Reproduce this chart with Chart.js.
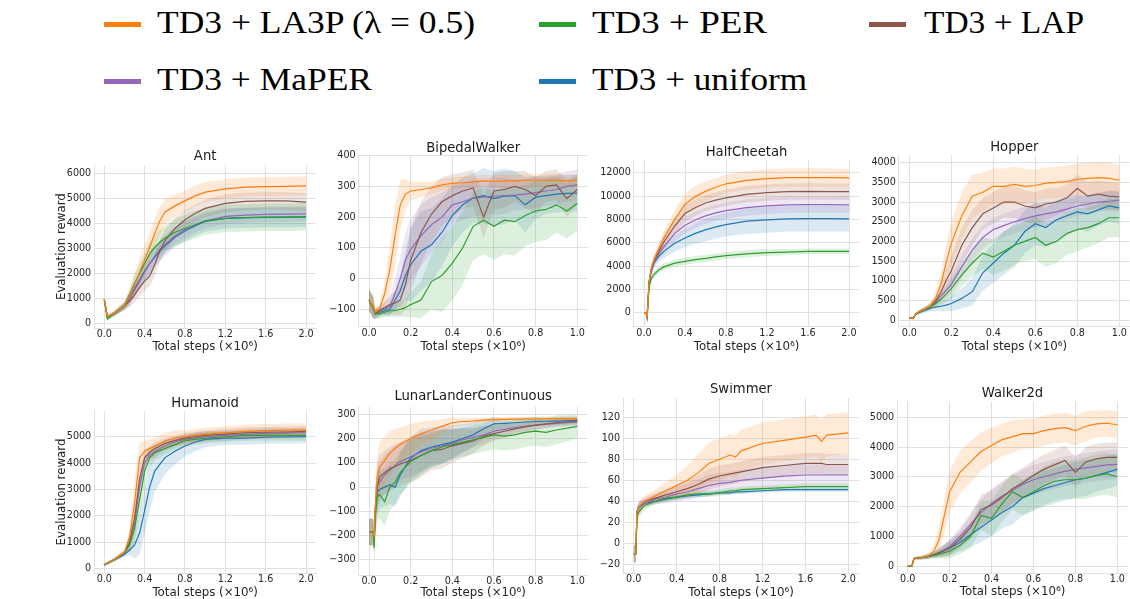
<!DOCTYPE html>
<html><head><meta charset="utf-8">
<script src="https://cdn.jsdelivr.net/npm/chart.js@4.4.1/dist/chart.umd.min.js"></script>
<style>
html,body{margin:0;padding:0;background:#ffffff;}
body{width:1130px;height:599px;overflow:hidden;position:relative;}
canvas{position:absolute;}
.lgText{position:absolute;font-family:"Liberation Serif",serif;font-size:32.6px;line-height:32.6px;color:#000;white-space:nowrap;transform-origin:0 0;}
.lgLine{position:absolute;height:5px;width:37px;}
</style></head><body>
<script>
// ================= DATA =================
const seriesNames = ['TD3 + LA3P (\u03bb = 0.5)', 'TD3 + PER', 'TD3 + LAP', 'TD3 + MaPER', 'TD3 + uniform'];
const envNames = ['Ant', 'BipedalWalker', 'HalfCheetah', 'Hopper', 'Humanoid', 'LunarLanderContinuous', 'Swimmer', 'Walker2d'];
const xAxisLabel = 'Total steps (\u00d710\u2076)';
const yAxisLabel = 'Evaluation reward';

const xTicks2M = [0, 0.4, 0.8, 1.2, 1.6, 2.0];
const xTicks1M = [0, 0.2, 0.4, 0.6, 0.8, 1.0];
const antYTicks = [0, 1000, 2000, 3000, 4000, 5000, 6000];
const bipedalYTicks = [-100, 0, 100, 200, 300, 400];
const halfCheetahYTicks = [0, 2000, 4000, 6000, 8000, 10000, 12000];
const hopperYTicks = [0, 500, 1000, 1500, 2000, 2500, 3000, 3500, 4000];
const humanoidYTicks = [0, 1000, 2000, 3000, 4000, 5000];
const lunarYTicks = [-300, -200, -100, 0, 100, 200, 300];
const swimmerYTicks = [-20, 0, 20, 40, 60, 80, 100, 120];
const walkerYTicks = [0, 1000, 2000, 3000, 4000, 5000];

// Ant
const antSteps   = [0, 0.03, 0.1, 0.2, 0.25, 0.3, 0.35, 0.4, 0.45, 0.5, 0.55, 0.6, 0.7, 0.8, 0.9, 1.0, 1.2, 1.4, 1.6, 1.8, 2.0];
const antLA3P    = [970, 280, 420, 720, 1100, 1550, 2050, 2550, 3050, 3600, 4100, 4450, 4700, 4900, 5100, 5250, 5380, 5450, 5470, 5480, 5500];
const antPER     = [970, 180, 420, 730, 1150, 1600, 2000, 2400, 2800, 3050, 3250, 3400, 3650, 3800, 3950, 4100, 4200, 4230, 4250, 4250, 4270];
const antLAP     = [970, 270, 400, 700, 900, 1150, 1450, 1700, 1900, 2350, 2900, 3300, 3800, 4150, 4400, 4600, 4800, 4880, 4900, 4900, 4850];
const antMaPER   = [930, 270, 410, 710, 1000, 1350, 1700, 2050, 2400, 2700, 2950, 3150, 3500, 3750, 3950, 4100, 4280, 4330, 4360, 4370, 4380];
const antUniform = [970, 260, 410, 700, 1000, 1400, 1750, 2100, 2400, 2650, 2900, 3100, 3450, 3700, 3900, 4080, 4200, 4230, 4240, 4250, 4250];
const antLA3PBand    = [30, 80, 100, 150, 300, 450, 550, 600, 600, 600, 550, 500, 450, 400, 400, 400, 380, 380, 380, 380, 380];
const antPERBand     = [30, 80, 100, 150, 250, 350, 400, 400, 450, 450, 500, 500, 550, 550, 550, 550, 550, 550, 550, 550, 550];
const antLAPBand     = [30, 80, 100, 150, 250, 300, 350, 400, 400, 450, 450, 450, 400, 400, 350, 350, 350, 350, 350, 350, 350];
const antMaPERBand   = [30, 80, 100, 150, 250, 300, 350, 350, 350, 350, 350, 350, 350, 350, 300, 300, 300, 300, 300, 300, 300];
const antUniformBand = [30, 80, 100, 150, 250, 300, 350, 400, 400, 400, 400, 400, 400, 400, 400, 400, 400, 400, 400, 400, 400];

// BipedalWalker
const bipedalSteps   = [0, 0.02, 0.03, 0.05, 0.075, 0.1, 0.125, 0.15, 0.175, 0.2, 0.25, 0.3, 0.35, 0.4, 0.45, 0.5, 0.55, 0.6, 0.65, 0.7, 0.75, 0.8, 0.85, 0.9, 0.95, 1.0];
const bipedalLA3P    = [-70, -90, -110, -100, -50, 30, 140, 240, 275, 285, 290, 295, 305, 310, 312, 315, 318, 316, 318, 318, 320, 320, 320, 320, 318, 320];
const bipedalPER     = [-70, -95, -115, -115, -110, -105, -105, -100, -95, -85, -70, -10, 10, 50, 100, 170, 190, 170, 190, 185, 205, 220, 225, 240, 220, 245];
const bipedalLAP     = [-70, -95, -115, -105, -95, -85, -80, -70, -20, 60, 150, 210, 250, 270, 285, 295, 200, 285, 290, 300, 290, 270, 300, 305, 260, 290];
const bipedalMaPER   = [-70, -95, -115, -105, -100, -90, -50, 0, 60, 95, 140, 175, 200, 240, 250, 262, 265, 268, 270, 272, 275, 280, 285, 290, 300, 305];
const bipedalUniform = [-70, -95, -115, -110, -105, -100, -70, -40, 10, 45, 90, 110, 150, 205, 240, 262, 270, 260, 268, 270, 240, 265, 270, 275, 277, 278];
const bipedalLA3PBand    = [35, 35, 15, 20, 40, 80, 100, 80, 50, 30, 25, 20, 20, 20, 20, 20, 20, 20, 20, 20, 20, 20, 20, 20, 20, 20];
const bipedalPERBand     = [35, 35, 15, 15, 15, 20, 20, 25, 30, 40, 60, 90, 120, 120, 120, 110, 110, 110, 110, 110, 100, 100, 100, 90, 90, 90];
const bipedalLAPBand     = [35, 35, 15, 15, 20, 30, 40, 50, 80, 100, 100, 90, 80, 70, 60, 60, 70, 60, 60, 50, 60, 60, 50, 50, 60, 50];
const bipedalMaPERBand   = [35, 35, 15, 15, 20, 30, 50, 70, 90, 100, 100, 90, 80, 60, 60, 60, 60, 60, 60, 50, 50, 50, 50, 50, 50, 50];
const bipedalUniformBand = [35, 35, 15, 15, 15, 20, 30, 50, 80, 120, 130, 120, 110, 100, 90, 80, 90, 90, 90, 80, 90, 70, 60, 60, 60, 60];

// HalfCheetah
const halfCheetahSteps   = [0, 0.02, 0.03, 0.05, 0.07, 0.1, 0.15, 0.2, 0.3, 0.4, 0.5, 0.6, 0.7, 0.8, 1.0, 1.2, 1.4, 1.6, 1.8, 2.0];
const halfCheetahLA3P    = [0, 0, -400, 2700, 3800, 4600, 5600, 6500, 8000, 9300, 9950, 10400, 10750, 11050, 11350, 11500, 11580, 11580, 11570, 11550];
const halfCheetahPER     = [0, 0, -400, 2200, 2900, 3300, 3700, 3950, 4250, 4400, 4550, 4650, 4780, 4900, 5050, 5150, 5200, 5250, 5250, 5250];
const halfCheetahLAP     = [0, 0, -400, 2700, 3700, 4500, 5350, 6150, 7450, 8500, 9000, 9400, 9650, 9850, 10150, 10300, 10380, 10400, 10380, 10370];
const halfCheetahMaPER   = [0, 0, -400, 2600, 3600, 4400, 5150, 5700, 6800, 7500, 7950, 8300, 8550, 8750, 9000, 9150, 9250, 9270, 9260, 9250];
const halfCheetahUniform = [0, 0, -400, 2600, 3500, 4300, 4900, 5300, 5950, 6400, 6800, 7100, 7350, 7550, 7850, 7950, 8050, 8060, 8060, 8050];
const halfCheetahLA3PBand    = [50, 50, 150, 300, 400, 400, 500, 600, 800, 900, 900, 850, 800, 800, 800, 800, 800, 800, 800, 750];
const halfCheetahPERBand     = [50, 50, 150, 250, 300, 300, 300, 300, 300, 300, 300, 300, 300, 300, 300, 300, 250, 250, 250, 250];
const halfCheetahLAPBand     = [50, 50, 150, 300, 400, 400, 500, 600, 700, 700, 700, 700, 700, 700, 700, 700, 700, 700, 700, 700];
const halfCheetahMaPERBand   = [50, 50, 150, 300, 400, 400, 500, 600, 700, 700, 700, 700, 700, 700, 700, 700, 700, 700, 700, 700];
const halfCheetahUniformBand = [50, 50, 150, 300, 400, 400, 500, 600, 700, 800, 900, 1000, 1000, 1000, 1100, 1100, 1100, 1100, 1100, 1100];

// Hopper
const hopperSteps   = [0, 0.02, 0.03, 0.05, 0.075, 0.1, 0.125, 0.15, 0.175, 0.2, 0.25, 0.3, 0.35, 0.4, 0.45, 0.5, 0.55, 0.6, 0.65, 0.7, 0.75, 0.8, 0.85, 0.9, 0.95, 1.0];
const hopperLA3P    = [50, 50, 150, 220, 280, 360, 550, 900, 1450, 1950, 2650, 3150, 3250, 3400, 3400, 3450, 3400, 3420, 3480, 3500, 3520, 3580, 3600, 3620, 3600, 3560];
const hopperPER     = [50, 50, 150, 210, 270, 340, 420, 520, 650, 800, 1150, 1450, 1700, 1600, 1750, 1900, 2000, 2100, 1900, 2000, 2200, 2300, 2350, 2450, 2600, 2600];
const hopperLAP     = [50, 50, 150, 220, 280, 350, 480, 700, 1000, 1250, 1900, 2350, 2700, 2850, 3000, 3000, 2900, 2850, 2950, 3000, 3100, 3350, 3150, 3200, 3150, 3130];
const hopperMaPER   = [50, 50, 150, 210, 270, 340, 450, 600, 750, 900, 1350, 1780, 2100, 2300, 2400, 2500, 2580, 2650, 2700, 2750, 2820, 2900, 2950, 3000, 3020, 3050];
const hopperUniform = [50, 50, 150, 200, 250, 300, 330, 350, 380, 420, 550, 720, 1200, 1450, 1700, 1900, 2250, 2450, 2350, 2550, 2650, 2750, 2700, 2800, 2900, 2850];
const hopperLA3PBand    = [20, 20, 30, 50, 60, 80, 150, 300, 450, 550, 600, 550, 500, 450, 450, 450, 450, 400, 400, 400, 400, 400, 400, 400, 400, 400];
const hopperPERBand     = [20, 20, 30, 50, 60, 80, 100, 150, 200, 250, 300, 350, 400, 450, 500, 500, 500, 550, 550, 550, 550, 550, 500, 500, 500, 500];
const hopperLAPBand     = [20, 20, 30, 50, 60, 80, 120, 200, 300, 400, 450, 450, 400, 400, 400, 400, 400, 400, 400, 350, 350, 350, 350, 350, 350, 350];
const hopperMaPERBand   = [20, 20, 30, 50, 60, 80, 100, 150, 200, 250, 300, 300, 300, 300, 300, 300, 300, 300, 300, 250, 250, 250, 250, 250, 250, 250];
const hopperUniformBand = [20, 20, 30, 50, 60, 80, 100, 120, 150, 200, 250, 350, 450, 500, 550, 550, 550, 550, 500, 500, 500, 450, 450, 400, 400, 400];

// Humanoid
const humanoidSteps   = [0, 0.1, 0.2, 0.25, 0.3, 0.35, 0.4, 0.45, 0.5, 0.6, 0.7, 0.8, 0.9, 1.0, 1.2, 1.4, 1.6, 1.8, 2.0];
const humanoidLA3P    = [150, 350, 620, 1200, 2500, 4200, 4450, 4550, 4650, 4850, 4950, 5000, 5050, 5100, 5150, 5200, 5230, 5250, 5260];
const humanoidPER     = [150, 350, 590, 900, 1500, 2600, 3700, 4200, 4400, 4550, 4700, 4850, 4900, 4950, 5000, 5050, 5050, 5050, 5050];
const humanoidLAP     = [150, 350, 600, 1000, 1900, 3400, 4200, 4400, 4550, 4750, 4850, 4950, 5000, 5050, 5100, 5150, 5170, 5180, 5200];
const humanoidMaPER   = [150, 350, 600, 950, 1700, 3100, 4000, 4300, 4450, 4650, 4800, 4900, 4950, 5000, 5050, 5100, 5120, 5140, 5150];
const humanoidUniform = [140, 330, 550, 700, 900, 1350, 2200, 3100, 3700, 4200, 4450, 4650, 4800, 4900, 4950, 4950, 4980, 4990, 5000];
const humanoidLA3PBand    = [50, 60, 100, 300, 800, 600, 400, 350, 300, 300, 300, 250, 250, 250, 250, 250, 250, 250, 250];
const humanoidPERBand     = [50, 60, 100, 250, 500, 700, 500, 350, 300, 250, 200, 200, 200, 200, 200, 200, 200, 200, 200];
const humanoidLAPBand     = [50, 60, 100, 250, 500, 500, 300, 250, 250, 200, 200, 200, 200, 200, 200, 200, 200, 200, 200];
const humanoidMaPERBand   = [50, 60, 100, 250, 500, 500, 300, 250, 250, 200, 200, 200, 200, 200, 200, 200, 200, 200, 200];
const humanoidUniformBand = [50, 60, 100, 200, 500, 800, 900, 900, 800, 600, 500, 400, 350, 300, 250, 250, 250, 250, 250];

// LunarLanderContinuous
const lunarSteps   = [0, 0.02, 0.025, 0.03, 0.04, 0.05, 0.075, 0.1, 0.125, 0.15, 0.2, 0.25, 0.3, 0.35, 0.4, 0.45, 0.5, 0.55, 0.6, 0.65, 0.7, 0.75, 0.8, 0.85, 0.9, 1.0];
const lunarLA3P    = [-185, -185, -200, -80, 40, 80, 110, 140, 160, 175, 200, 220, 235, 250, 265, 270, 272, 276, 278, 279, 280, 280, 280, 281, 282, 282];
const lunarPER     = [-185, -185, -250, -120, -40, -30, -60, 0, 20, 60, 105, 130, 150, 165, 175, 185, 195, 205, 215, 210, 215, 225, 230, 225, 235, 250];
const lunarLAP     = [-185, -185, -220, -90, 0, 40, 60, 75, 85, 95, 110, 130, 150, 155, 170, 180, 190, 210, 220, 230, 240, 248, 255, 260, 265, 272];
const lunarMaPER   = [-185, -185, -220, -100, 0, 20, 50, 70, 90, 105, 125, 145, 160, 170, 180, 195, 205, 215, 230, 238, 245, 250, 255, 258, 262, 268];
const lunarUniform = [-185, -185, -200, -100, -20, -10, 0, 10, 0, 50, 120, 150, 165, 175, 185, 200, 215, 240, 260, 262, 265, 268, 270, 271, 272, 275];
const lunarLA3PBand    = [55, 55, 50, 80, 100, 100, 100, 90, 80, 70, 60, 50, 40, 30, 20, 15, 15, 10, 10, 10, 10, 10, 10, 10, 10, 10];
const lunarPERBand     = [55, 55, 70, 100, 100, 100, 100, 100, 90, 90, 90, 80, 70, 70, 60, 60, 60, 60, 60, 60, 60, 60, 60, 60, 60, 50];
const lunarLAPBand     = [55, 55, 50, 80, 100, 90, 90, 90, 90, 90, 90, 90, 80, 80, 70, 60, 50, 40, 30, 30, 20, 20, 20, 15, 15, 15];
const lunarMaPERBand   = [55, 55, 50, 80, 90, 80, 80, 80, 80, 80, 80, 80, 70, 70, 60, 50, 40, 40, 30, 30, 20, 20, 20, 15, 15, 15];
const lunarUniformBand = [55, 55, 50, 80, 90, 80, 80, 80, 80, 90, 90, 90, 80, 80, 70, 60, 50, 40, 30, 20, 20, 20, 15, 15, 15, 15];

// Swimmer
const swimmerSteps   = [0, 0.02, 0.03, 0.05, 0.1, 0.2, 0.3, 0.4, 0.5, 0.6, 0.7, 0.8, 0.9, 0.95, 1.0, 1.2, 1.4, 1.6, 1.7, 1.75, 1.8, 2.0];
const swimmerLA3P    = [-10, -10, 30, 35, 40, 45, 50, 55, 60, 67, 76, 80, 84, 82, 88, 95, 98, 101, 103, 97, 103, 105];
const swimmerPER     = [-10, -10, 25, 30, 36, 40, 43, 44, 46, 47, 47, 48, 50, 50, 51, 52, 53, 54, 54, 54, 54, 54];
const swimmerLAP     = [-10, -10, 30, 35, 40, 43, 46, 49, 52, 56, 61, 64, 66, 67, 68, 72, 74, 76, 76, 76, 75, 75];
const swimmerMaPER   = [-10, -10, 30, 34, 38, 42, 44, 47, 49, 52, 55, 57, 58, 59, 60, 62, 64, 65, 65, 65, 65, 65];
const swimmerUniform = [-10, -10, 30, 34, 38, 40, 42, 44, 45, 46, 47, 48, 48, 49, 49, 50, 51, 51, 51, 51, 51, 51];
const swimmerLA3PBand    = [8, 8, 5, 5, 5, 6, 8, 10, 14, 18, 20, 20, 20, 20, 20, 20, 20, 20, 20, 20, 20, 20];
const swimmerPERBand     = [8, 8, 6, 6, 4, 3, 3, 3, 3, 3, 3, 3, 3, 3, 3, 3, 3, 3, 3, 3, 3, 3];
const swimmerLAPBand     = [8, 8, 5, 5, 4, 5, 6, 7, 8, 9, 10, 10, 10, 10, 10, 10, 10, 10, 10, 10, 10, 10];
const swimmerMaPERBand   = [8, 8, 5, 5, 4, 5, 6, 7, 8, 9, 10, 10, 10, 10, 10, 10, 10, 10, 10, 10, 10, 10];
const swimmerUniformBand = [8, 8, 5, 5, 3, 2, 2, 2, 2, 2, 2, 2, 2, 2, 2, 2, 2, 2, 2, 2, 2, 2];

// Walker2d
const walkerSteps   = [0, 0.02, 0.03, 0.05, 0.075, 0.1, 0.125, 0.15, 0.175, 0.2, 0.25, 0.3, 0.35, 0.4, 0.45, 0.5, 0.55, 0.6, 0.65, 0.7, 0.75, 0.8, 0.85, 0.9, 0.95, 1.0];
const walkerLA3P    = [0, 0, 250, 270, 300, 350, 500, 900, 1700, 2500, 3150, 3500, 3850, 4050, 4250, 4350, 4450, 4450, 4550, 4620, 4650, 4550, 4700, 4780, 4800, 4750];
const walkerPER     = [0, 0, 250, 270, 290, 320, 360, 400, 450, 500, 700, 1000, 1700, 1600, 2100, 2500, 2300, 2500, 2700, 2850, 2900, 2900, 2950, 3050, 3100, 3000];
const walkerLAP     = [0, 0, 250, 270, 290, 330, 380, 450, 520, 600, 900, 1300, 1900, 2050, 2300, 2600, 2800, 3050, 3250, 3400, 3550, 3150, 3500, 3600, 3650, 3650];
const walkerMaPER   = [0, 0, 250, 270, 290, 330, 380, 450, 550, 650, 1000, 1400, 1800, 2100, 2350, 2550, 2750, 2900, 3000, 3100, 3180, 3250, 3300, 3350, 3400, 3420];
const walkerUniform = [0, 0, 250, 270, 290, 320, 380, 450, 520, 600, 800, 1050, 1300, 1550, 1800, 2000, 2300, 2450, 2600, 2700, 2800, 2900, 2950, 3050, 3150, 3250];
const walkerLA3PBand    = [10, 10, 40, 50, 60, 80, 200, 400, 600, 700, 700, 700, 650, 600, 550, 550, 500, 500, 500, 500, 500, 500, 500, 450, 450, 450];
const walkerPERBand     = [10, 10, 40, 50, 60, 80, 100, 150, 200, 250, 300, 400, 500, 600, 600, 600, 600, 600, 650, 650, 650, 650, 700, 700, 700, 700];
const walkerLAPBand     = [10, 10, 40, 50, 60, 80, 100, 150, 200, 250, 300, 400, 500, 500, 500, 500, 500, 500, 500, 500, 500, 500, 500, 500, 500, 500];
const walkerMaPERBand   = [10, 10, 40, 50, 60, 80, 100, 150, 200, 250, 300, 400, 450, 500, 500, 500, 500, 500, 500, 500, 500, 500, 500, 500, 500, 500];
const walkerUniformBand = [10, 10, 40, 50, 60, 80, 100, 150, 200, 250, 300, 400, 500, 550, 550, 600, 600, 600, 600, 600, 600, 600, 600, 550, 550, 550];

// ================= TABLE BUILT FROM THE ARRAYS =================
const envData = [
  {steps: antSteps, means: [antLA3P, antPER, antLAP, antMaPER, antUniform], bands: [antLA3PBand, antPERBand, antLAPBand, antMaPERBand, antUniformBand], xTicks: xTicks2M, yTicks: antYTicks},
  {steps: bipedalSteps, means: [bipedalLA3P, bipedalPER, bipedalLAP, bipedalMaPER, bipedalUniform], bands: [bipedalLA3PBand, bipedalPERBand, bipedalLAPBand, bipedalMaPERBand, bipedalUniformBand], xTicks: xTicks1M, yTicks: bipedalYTicks},
  {steps: halfCheetahSteps, means: [halfCheetahLA3P, halfCheetahPER, halfCheetahLAP, halfCheetahMaPER, halfCheetahUniform], bands: [halfCheetahLA3PBand, halfCheetahPERBand, halfCheetahLAPBand, halfCheetahMaPERBand, halfCheetahUniformBand], xTicks: xTicks2M, yTicks: halfCheetahYTicks},
  {steps: hopperSteps, means: [hopperLA3P, hopperPER, hopperLAP, hopperMaPER, hopperUniform], bands: [hopperLA3PBand, hopperPERBand, hopperLAPBand, hopperMaPERBand, hopperUniformBand], xTicks: xTicks1M, yTicks: hopperYTicks},
  {steps: humanoidSteps, means: [humanoidLA3P, humanoidPER, humanoidLAP, humanoidMaPER, humanoidUniform], bands: [humanoidLA3PBand, humanoidPERBand, humanoidLAPBand, humanoidMaPERBand, humanoidUniformBand], xTicks: xTicks2M, yTicks: humanoidYTicks},
  {steps: lunarSteps, means: [lunarLA3P, lunarPER, lunarLAP, lunarMaPER, lunarUniform], bands: [lunarLA3PBand, lunarPERBand, lunarLAPBand, lunarMaPERBand, lunarUniformBand], xTicks: xTicks1M, yTicks: lunarYTicks},
  {steps: swimmerSteps, means: [swimmerLA3P, swimmerPER, swimmerLAP, swimmerMaPER, swimmerUniform], bands: [swimmerLA3PBand, swimmerPERBand, swimmerLAPBand, swimmerMaPERBand, swimmerUniformBand], xTicks: xTicks2M, yTicks: swimmerYTicks},
  {steps: walkerSteps, means: [walkerLA3P, walkerPER, walkerLAP, walkerMaPER, walkerUniform], bands: [walkerLA3PBand, walkerPERBand, walkerLAPBand, walkerMaPERBand, walkerUniformBand], xTicks: xTicks1M, yTicks: walkerYTicks},
];

// ================= STYLE / LAYOUT =================
const seriesColors = [[255,127,14],[44,160,44],[140,86,75],[148,103,189],[31,119,180]];
const frames = [
  {L:94.2,  T:165,   R:316.1,  B:328.3, xMin:-0.1,  xMax:2.1,  yMin:-183,  yMax:6331,  titleY:156.5, xLabelY:346.7, yLabelX:61.7},
  {L:358.6, T:155.1, R:587.7,  B:326.7, xMin:-0.05, xMax:1.05, yMin:-157,  yMax:402,   titleY:148.3, xLabelY:346.7},
  {L:633.75,T:160,   R:859.25, B:326.7, xMin:-0.1,  xMax:2.1,  yMin:-1200, yMax:13089, titleY:152.7, xLabelY:346.7},
  {L:898.8, T:155,   R:1129.8, B:326.7, xMin:-0.05, xMax:1.05, yMin:-170,  yMax:4196,  titleY:147.3, xLabelY:346.7},
  {L:94.2,  T:410.6, R:316.1,  B:573.3, xMin:-0.1,  xMax:2.1,  yMin:-174,  yMax:5990,  titleY:404,   xLabelY:593.3, yLabelX:61.7},
  {L:358.6, T:406.7, R:587.7,  B:575,   xMin:-0.05, xMax:1.05, yMin:-362,  yMax:331,   titleY:396.7, xLabelY:593.3},
  {L:623,   T:398.3, R:859,    B:573.3, xMin:-0.1,  xMax:2.1,  yMin:-28.6, yMax:138,   titleY:390,   xLabelY:593.3},
  {L:897.2, T:401.7, R:1127.8, B:573.3, xMin:-0.05, xMax:1.05, yMin:-245,  yMax:5525,  titleY:394,   xLabelY:591.7},
];
const legendPlaces = [
  {hx:104.3, hy:21.8, tx:156.7, base:33.3, w:318},
  {hx:539.4, hy:21.8, tx:592,   base:33.3, w:175},
  {hx:869,   hy:21.8, tx:923.6, base:33.3, w:160},
  {hx:104.3, hy:78.5, tx:156.7, base:90,   w:215},
  {hx:539.4, hy:78.5, tx:592,   base:90,   w:215},
];
const gridColor = '#e0e0e0';
const textColor = '#262626';
const fontFam = 'DejaVu Sans';

function rgba(c, a){ return `rgba(${c[0]},${c[1]},${c[2]},${a})`; }

// ================= LEGEND =================
legendPlaces.forEach((p, s) => {
  const h = document.createElement('div');
  h.className = 'lgLine';
  h.style.left = p.hx + 'px'; h.style.top = p.hy + 'px';
  h.style.background = rgba(seriesColors[s], 1);
  document.body.appendChild(h);
  const t = document.createElement('div');
  t.className = 'lgText';
  t.textContent = seriesNames[s];
  t.style.left = p.tx + 'px';
  t.style.top = (p.base - 27.3) + 'px';
  t.dataset.w = p.w;
  document.body.appendChild(t);
});
function fitLegend(){
  document.querySelectorAll('.lgText').forEach(el => {
    el.style.transform = 'none';
    const w = el.getBoundingClientRect().width;
    if (w > 0) el.style.transform = `scaleX(${el.dataset.w / w})`;
  });
}
fitLegend();
if (document.fonts && document.fonts.ready) document.fonts.ready.then(fitLegend);

// ================= CHARTS =================
const titleSize = 13.2, tLH = titleSize * 1.0;
const axisSize = 11.8, aLH = axisSize * 1.2;
const tickSize = 9.6;

frames.forEach((f, k) => {
  const env = envData[k];
  const hasY = f.yLabelX !== undefined;
  const cL = Math.floor(hasY ? f.yLabelX - aLH / 2 - 2 : f.L - 46);
  const cT = Math.floor(f.titleY - tLH / 2);
  const cR = Math.ceil(f.R + 10);
  const cB = Math.ceil(f.xLabelY + aLH / 2 + 1);
  const tPadTop = f.titleY - tLH / 2 - cT;
  const tPadBottom = Math.max(0, f.T - cT - tLH - tPadTop);
  const xPadBottom = cB - aLH / 2 - f.xLabelY;
  const yPadTop = hasY ? f.yLabelX - cL - aLH / 2 : 0;

  const canvas = document.createElement('canvas');
  canvas.width = cR - cL; canvas.height = cB - cT;
  canvas.style.left = cL + 'px'; canvas.style.top = cT + 'px';
  canvas.style.width = (cR - cL) + 'px'; canvas.style.height = (cB - cT) + 'px';
  document.body.appendChild(canvas);

  const datasets = [];
  env.means.forEach((m, s) => {
    datasets.push({
      label: seriesNames[s],
      data: env.steps.map((x, i) => ({x: x, y: m[i]})),
      borderColor: rgba(seriesColors[s], 1), borderWidth: 1.2, pointRadius: 0,
      fill: false, tension: 0, order: 0
    });
  });
  env.means.forEach((m, s) => {
    const b = env.bands[s];
    datasets.push({
      label: seriesNames[s] + ' upper',
      data: env.steps.map((x, i) => ({x: x, y: m[i] + b[i]})),
      borderColor: 'rgba(0,0,0,0)', borderWidth: 0, pointRadius: 0,
      backgroundColor: rgba(seriesColors[s], 0.16), fill: '+1', tension: 0, order: 1
    });
    datasets.push({
      label: seriesNames[s] + ' lower',
      data: env.steps.map((x, i) => ({x: x, y: m[i] - b[i]})),
      borderColor: 'rgba(0,0,0,0)', borderWidth: 0, pointRadius: 0,
      fill: false, tension: 0, order: 1
    });
  });

  new Chart(canvas, {
    type: 'line',
    data: {datasets: datasets},
    options: {
      responsive: false, animation: false, devicePixelRatio: 1,
      events: [],
      layout: {padding: {left: 0, right: cR - f.R, top: 0, bottom: 0}},
      plugins: {
        legend: {display: false},
        tooltip: {enabled: false},
        title: {
          display: true, text: envNames[k], fullSize: false, align: 'center', color: '#1a1a1a',
          font: {family: fontFam, size: titleSize, weight: 'normal', lineHeight: 1.0},
          padding: {top: tPadTop, bottom: tPadBottom}
        }
      },
      scales: {
        x: {
          type: 'linear', min: f.xMin, max: f.xMax,
          afterBuildTicks: sc => { sc.ticks = env.xTicks.map(v => ({value: v})); },
          afterFit: sc => { sc.height = cB - f.B; },
          grid: {color: gridColor, drawTicks: false, lineWidth: 1},
          border: {display: true, color: gridColor, width: 1},
          ticks: {
            padding: 1.5, color: textColor, maxRotation: 0, autoSkip: false,
            font: {family: fontFam, size: tickSize, lineHeight: 1.0},
            callback: v => Number(v).toFixed(1)
          },
          title: {
            display: true, text: xAxisLabel, color: textColor,
            font: {family: fontFam, size: axisSize, lineHeight: 1.2},
            padding: {top: 0, bottom: xPadBottom}
          }
        },
        y: {
          type: 'linear', min: f.yMin, max: f.yMax,
          afterBuildTicks: sc => { sc.ticks = env.yTicks.map(v => ({value: v})); },
          afterFit: sc => { sc.width = f.L - cL; },
          grid: {color: gridColor, drawTicks: false, lineWidth: 1},
          border: {display: true, color: gridColor, width: 1},
          ticks: {
            padding: 3, color: textColor, autoSkip: false,
            font: {family: fontFam, size: tickSize, lineHeight: 1.0},
            callback: v => String(v).replace('-', '\u2212')
          },
          title: {
            display: hasY, text: yAxisLabel, color: textColor,
            font: {family: fontFam, size: axisSize, lineHeight: 1.2},
            padding: {top: yPadTop, bottom: 0}
          }
        }
      }
    }
  });
});
</script>
</body></html>
